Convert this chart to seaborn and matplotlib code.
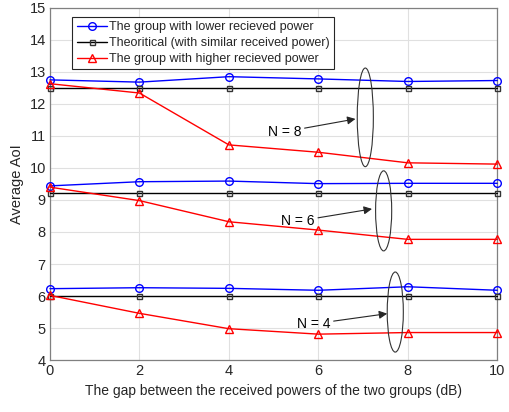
import matplotlib
matplotlib.use("Agg")
import matplotlib.pyplot as plt
import seaborn as sns
import pandas as pd
from matplotlib.patches import Ellipse

sns.set_theme(style="whitegrid")
plt.rcParams['font.family'] = ['Liberation Sans', 'DejaVu Sans']

gap_db = [0, 2, 4, 6, 8, 10]

lower_n8 = [12.75, 12.68, 12.85, 12.78, 12.70, 12.73]
theory_n8 = [12.50, 12.50, 12.50, 12.50, 12.50, 12.50]
higher_n8 = [12.63, 12.34, 10.72, 10.49, 10.16, 10.12]

lower_n6 = [9.44, 9.57, 9.59, 9.51, 9.52, 9.52]
theory_n6 = [9.22, 9.22, 9.22, 9.22, 9.22, 9.22]
higher_n6 = [9.40, 8.98, 8.32, 8.06, 7.77, 7.77]

lower_n4 = [6.23, 6.26, 6.24, 6.18, 6.29, 6.18]
theory_n4 = [5.99, 5.99, 5.99, 5.99, 5.99, 5.99]
higher_n4 = [6.02, 5.46, 4.98, 4.81, 4.86, 4.86]

labels = ["The group with lower recieved power",
          "Theoritical (with similar received power)",
          "The group with higher recieved power"]

fig = plt.figure(figsize=(5.10, 4.12), dpi=100)
ax = fig.add_axes([0.098, 0.126, 0.877, 0.855])

styles = [
    dict(color="#0000ff", marker="o", markersize=5.5, markerfacecolor="none", markeredgecolor="#0000ff"),
    dict(color="#000000", marker="s", markersize=3.6, markerfacecolor="none", markeredgecolor="#333333"),
    dict(color="#ff0000", marker="^", markersize=5.5, markerfacecolor="none", markeredgecolor="#ff0000"),
]

groups = [(lower_n8, theory_n8, higher_n8),
          (lower_n6, theory_n6, higher_n6),
          (lower_n4, theory_n4, higher_n4)]

for gi, grp in enumerate(groups):
    for si, vals in enumerate(grp):
        df = pd.DataFrame({"x": gap_db, "y": vals})
        sns.lineplot(data=df, x="x", y="y", ax=ax, linewidth=1.0,
                     label=labels[si] if gi == 0 else None,
                     markeredgewidth=1.0, clip_on=False, zorder=3, **styles[si])

ax.set_xlim(0, 10)
ax.set_ylim(4, 15)
ax.set_xticks([0, 2, 4, 6, 8, 10])
ax.set_yticks(range(4, 16))
ax.set_xlabel("The gap between the received powers of the two groups (dB)", fontsize=10, color="#262626")
ax.set_ylabel("Average AoI", fontsize=10.5, color="#262626")
ax.tick_params(axis="both", labelsize=10.5, colors="#262626", direction="in", length=3, pad=3)
ax.grid(True, color="#e0e0e0", linewidth=0.8)
for s in ax.spines.values():
    s.set_color("#808080")
    s.set_linewidth(0.9)

leg = ax.legend(loc="upper left", bbox_to_anchor=(0.05, 0.975), fontsize=9,
                frameon=True, fancybox=False, handlelength=2.4, handletextpad=0.2,
                borderpad=0.35, labelspacing=0.32, borderaxespad=0)
leg.get_frame().set_edgecolor("#262626")
leg.get_frame().set_linewidth(0.8)
leg.get_frame().set_alpha(1)

# annotations: ellipses and arrows
ell_specs = [(7.05, 11.58, 0.36, 3.08), (7.46, 8.66, 0.36, 2.5), (7.72, 5.50, 0.36, 2.5)]
for cx, cy, w, h in ell_specs:
    ax.add_patch(Ellipse((cx, cy), w, h, fill=False, edgecolor="#333333", linewidth=0.8, zorder=4))

ann = [("N = 8", (4.87, 11.13), (6.83, 11.53)),
       ("N = 6", (5.17, 8.34), (7.20, 8.72)),
       ("N = 4", (5.52, 5.13), (7.54, 5.45))]
for txt, xy_text, xy_tip in ann:
    ax.annotate(txt, xy=xy_tip, xytext=xy_text, fontsize=10, color="black",
                ha="left", va="center",
                arrowprops=dict(arrowstyle="-|>", color="#262626", lw=0.8,
                                mutation_scale=12, shrinkA=0, shrinkB=0))

fig.savefig("out.png", dpi=100)
